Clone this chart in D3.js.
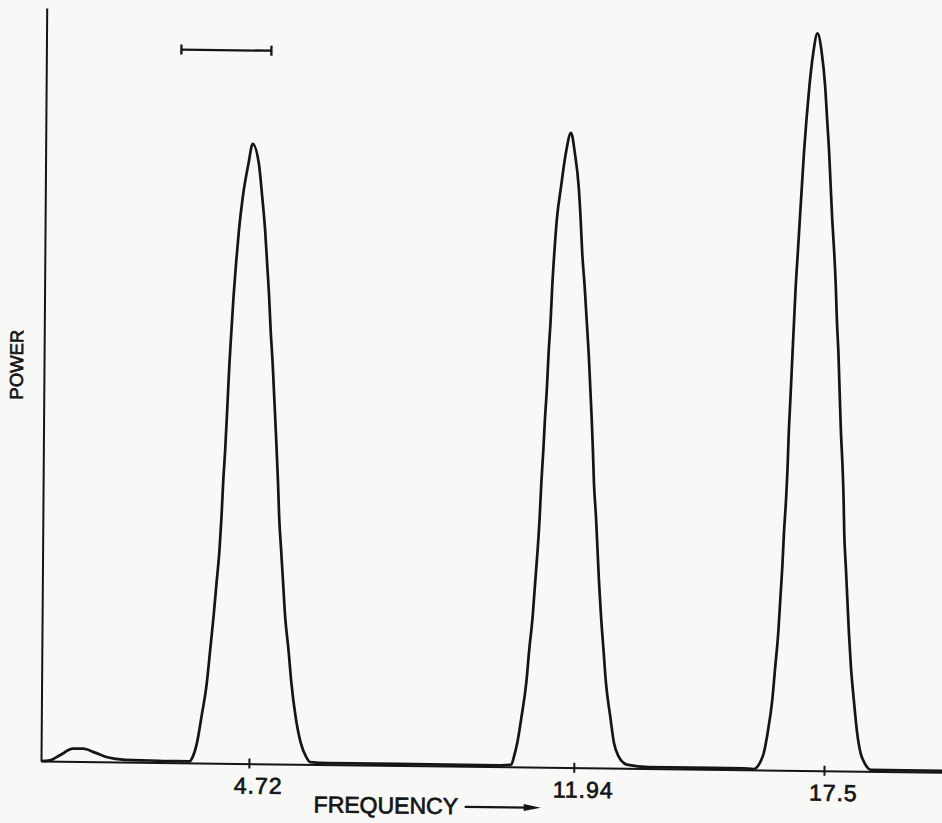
<!DOCTYPE html>
<html>
<head>
<meta charset="utf-8">
<script src="https://cdn.jsdelivr.net/npm/d3@7"></script>
<style>
  html, body { margin: 0; padding: 0; background: #f8f8f7; overflow: hidden; }
  svg { display: block; }
</style>
</head>
<body>
<script>
// spectrum trace: frequency and power (arbitrary units, 0 = baseline)
var traceFreq = [
  0.10, 0.30, 0.52, 0.81, 1.03, 1.30, 1.57, 1.97, 2.52, 3.08,
  3.40, 3.47, 3.56, 3.66, 3.77, 3.84, 3.91, 3.97, 4.03, 4.07, 4.10, 4.14, 4.19, 4.22, 4.26,
  4.30, 4.35, 4.41, 4.49, 4.61, 4.70, 4.84, 4.92, 4.99, 5.04, 5.09, 5.13, 5.18, 5.22, 5.26,
  5.32, 5.35, 5.40, 5.45, 5.50, 5.58, 5.65, 5.75, 5.87, 5.99, 6.08,
  6.5, 8.0, 9.5, 10.3,
  10.55, 10.61, 10.68, 10.77, 10.87, 10.93, 11.00, 11.05, 11.10, 11.14, 11.17, 11.21, 11.24,
  11.28, 11.31, 11.35, 11.38, 11.42, 11.47, 11.56, 11.66, 11.77, 11.86, 11.95, 12.00, 12.04,
  12.10, 12.15, 12.20, 12.24, 12.28, 12.31, 12.34, 12.39, 12.43, 12.47, 12.52, 12.58, 12.64,
  12.74, 12.83, 12.93, 13.12,
  13.6, 15.0, 15.7,
  15.93, 16.07, 16.16, 16.24, 16.34, 16.40, 16.46, 16.50, 16.54, 16.57, 16.61, 16.64, 16.66,
  16.69, 16.73, 16.76, 16.79, 16.83, 16.87, 16.91, 16.95, 17.00, 17.06, 17.14, 17.23, 17.33,
  17.41, 17.46, 17.51, 17.55, 17.59, 17.64, 17.68, 17.71, 17.75, 17.79, 17.82, 17.86, 17.89,
  17.91, 17.95, 17.99, 18.03, 18.08, 18.15, 18.23, 18.31, 18.40, 18.55,
  19.3, 20.2
];
var tracePower = [
  0, 0.1, 0.8, 1.7, 1.7, 1.2, 0.6, 0.3, 0.25, 0.2,
  0.2, 0.8, 2.6, 6.2, 10.6, 15.0, 19.5, 23.9, 28.3, 32.8, 37.2, 41.6, 48.7, 53.1, 57.6,
  62.0, 66.4, 70.9, 75.3, 79.7, 82.3, 79.7, 75.3, 70.9, 66.5, 62.1, 57.6, 53.2, 48.8, 44.4,
  37.3, 32.9, 28.4, 24.0, 19.6, 15.2, 10.8, 6.3, 2.8, 1.0, 0.3,
  0.2, 0.2, 0.2, 0.2,
  0.3, 1.4, 3.2, 6.7, 11.2, 15.6, 20.0, 24.5, 28.9, 33.3, 37.7, 42.2, 46.2,
  50.6, 55.0, 59.4, 63.9, 68.3, 72.7, 77.2, 81.6, 84.3, 81.6, 77.2, 72.8, 68.4,
  63.9, 59.5, 55.1, 50.7, 46.2, 42.3, 37.8, 33.4, 29.0, 24.6, 20.1, 15.7, 11.3,
  6.9, 3.3, 1.6, 0.5,
  0.2, 0.2, 0.2,
  0.1, 0.9, 2.3, 4.9, 9.4, 13.8, 18.2, 22.7, 27.1, 31.5, 35.9, 40.4, 44.8,
  49.2, 55.4, 59.9, 64.3, 68.7, 73.2, 77.6, 82.0, 86.4, 90.9, 95.3, 97.9, 95.3,
  90.9, 86.5, 82.1, 77.6, 73.2, 68.8, 64.4, 59.9, 55.5, 49.3, 44.9, 40.5, 36.0,
  31.6, 27.2, 22.8, 18.4, 13.9, 9.5, 5.1, 2.4, 1.1, 0.2,
  0.2, 0.2
];

var tickValues = [4.72, 11.94, 17.5];
var tickLabels = ['4.72', '11.94', '17.5'];

var xTitle = 'FREQUENCY';
var yTitle = 'POWER';

// resolution bar at the top left, in frequency units
var barFreq = [3.1, 5.1];
var barPower = 94.7;

var width = 942, height = 823;
var ink = '#151515';
var font = "'Liberation Sans', Arial, sans-serif";

var svg = d3.select('body')
  .append('svg')
  .attr('width', width)
  .attr('height', height);

// the scanned sheet is a little skewed, so the plot group gets a small shear
var plot = svg.append('g')
  .attr('transform', 'matrix(1, 0.0125, -0.0076, 1, 41, 761)');

var x = d3.scaleLinear()
    .domain([0.1, 20.2])
    .range([0, 904.5]);

var y = d3.scaleLinear()
    .domain([0, 100])
    .range([0, -753]);

var xAxis = d3.axisBottom(x)
    .tickValues(tickValues)
    .tickFormat(function(d, i){ return tickLabels[i]; })
    .tickSizeInner(5)
    .tickSizeOuter(0);

var yAxis = d3.axisLeft(y).tickValues([]).tickSizeOuter(0);

// lettering on the original is a bit heavier than a regular face
function letter(sel, size) {
  sel.attr('fill', ink)
    .attr('stroke', ink)
    .attr('stroke-width', 0.7)
    .attr('font-family', font)
    .attr('font-size', size);
}

var gx = plot.append('g').attr('class', 'axis x').call(xAxis);
gx.select('.domain').attr('stroke', ink).attr('stroke-width', 2);
gx.selectAll('.tick line')
  .attr('y1', -5)
  .attr('y2', 5)
  .attr('stroke', ink)
  .attr('stroke-width', 2);
gx.selectAll('.tick text')
  .attr('x', 9)
  .attr('y', 30)
  .attr('dy', null)
  .attr('letter-spacing', 1)
  .call(letter, 23);

var gy = plot.append('g').attr('class', 'axis y').call(yAxis);
gy.select('.domain').attr('stroke', ink).attr('stroke-width', 2);

var line = d3.line()
    .x(function(d, i){ return x(traceFreq[i]); })
    .y(function(d){ return y(d); })
    .curve(d3.curveMonotoneX);

plot.append('path')
  .attr('fill', 'none')
  .attr('stroke', ink)
  .attr('stroke-width', 2.7)
  .attr('stroke-linejoin', 'round')
  .attr('d', line(tracePower));

// resolution bar
var bar = plot.append('g').attr('class', 'bar')
  .attr('stroke', ink).attr('stroke-width', 2.3);
bar.append('line')
  .attr('x1', x(barFreq[0])).attr('x2', x(barFreq[1]))
  .attr('y1', y(barPower)).attr('y2', y(barPower));
bar.selectAll('line.cap')
  .data(barFreq)
  .enter()
  .append('line')
  .attr('class', 'cap')
  .attr('x1', function(d){ return x(d); })
  .attr('x2', function(d){ return x(d); })
  .attr('y1', y(barPower) - 5)
  .attr('y2', y(barPower) + 5);

// axis titles
plot.append('text')
  .attr('x', 273)
  .attr('y', 48)
  .call(letter, 23)
  .text(xTitle);

plot.append('line')
  .attr('x1', 424).attr('x2', 488)
  .attr('y1', 40.5).attr('y2', 40.5)
  .attr('stroke', ink)
  .attr('stroke-width', 2.2);
plot.append('path')
  .attr('d', 'M483,37L500,40.5L483,44Z')
  .attr('fill', ink);

plot.append('text')
  .attr('transform', 'translate(-21,-396) rotate(-90)')
  .attr('text-anchor', 'middle')
  .call(letter, 18.5)
  .text(yTitle);
</script>
</body>
</html>
